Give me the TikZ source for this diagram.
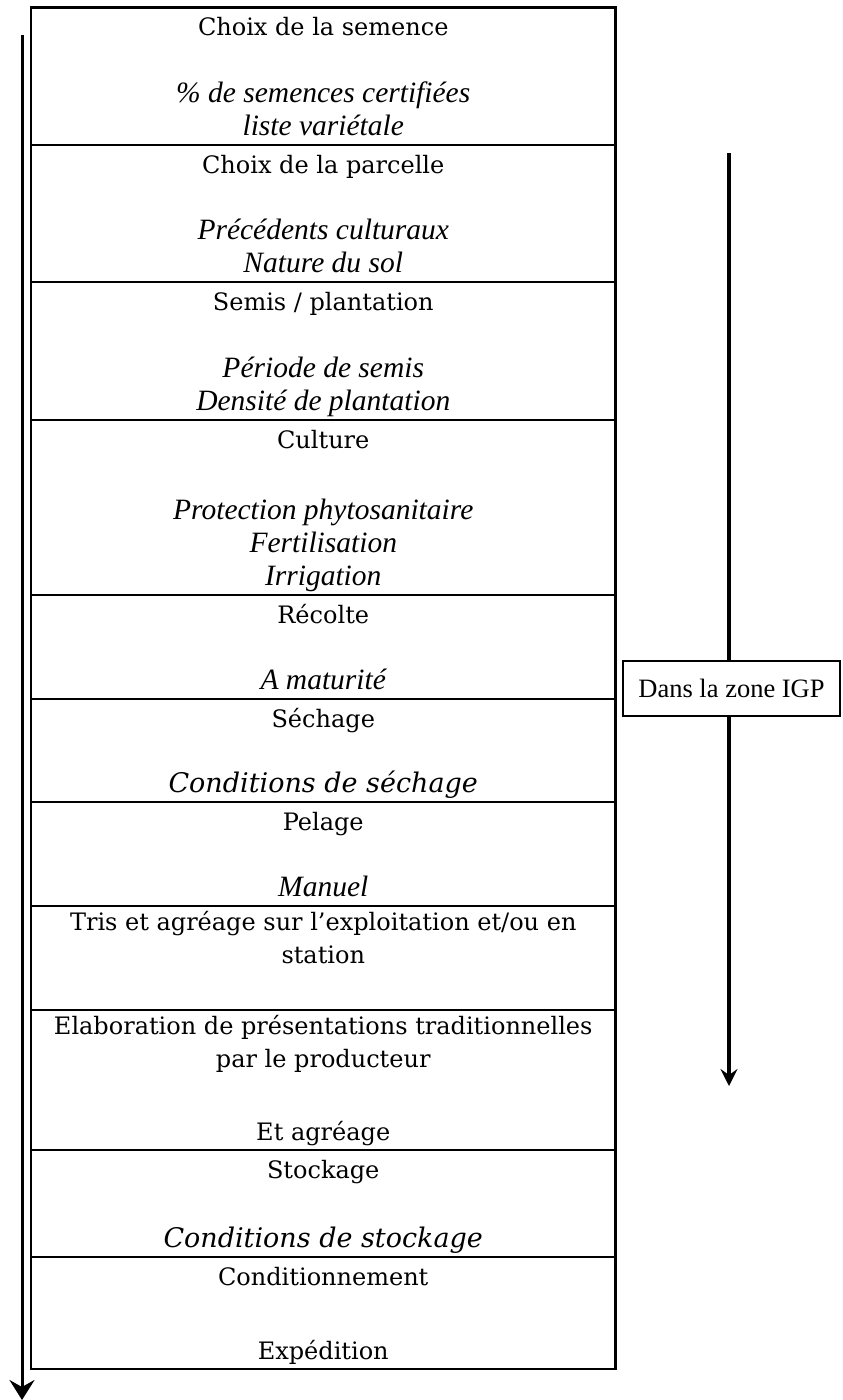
\documentclass[tikz,border=0pt]{standalone}
\usepackage{fontspec}
\setmainfont{Liberation Serif}
\newfontfamily\cambria{DejaVu Serif}
\usetikzlibrary{arrows.meta,positioning}

\begin{document}
\begin{tikzpicture}[x=1pt, y=-1pt, inner sep=0pt, outer sep=0pt,
    etape/.style={draw, line width=2.4pt, minimum width=584.5pt},
    titre/.style={anchor=north, yshift=-5pt, align=center, font=\cambria\fontsize{24}{33.5}\selectfont, execute at begin node=\strut},
    detail/.style={anchor=south, align=center, font=\itshape\fontsize{29.5}{33}\selectfont, execute at end node=\strut},
    detailc/.style={detail, font=\cambria\itshape\fontsize{27}{33}\selectfont},
    basc/.style={detail, font=\cambria\fontsize{24}{33}\selectfont}]
    \useasboundingbox (0,0) rectangle (843,1400);
    % the chain of steps
    \node[etape, minimum height=137.5pt] (semence) at (323.25,76.25) {};
    \node[etape, minimum height=137pt, below=0pt of semence] (parcelle) {};
    \node[etape, minimum height=138pt, below=0pt of parcelle] (semis) {};
    \node[etape, minimum height=175pt, below=0pt of semis] (culture) {};
    \node[etape, minimum height=104pt, below=0pt of culture] (recolte) {};
    \node[etape, minimum height=103pt, below=0pt of recolte] (sechage) {};
    \node[etape, minimum height=104pt, below=0pt of sechage] (pelage) {};
    \node[etape, minimum height=104pt, below=0pt of pelage] (tris) {};
    \node[etape, minimum height=140pt, below=0pt of tris] (elaboration) {};
    \node[etape, minimum height=107pt, below=0pt of elaboration] (stockage) {};
    \node[etape, minimum height=112pt, below=0pt of stockage] (conditionnement) {};
    % titles and details
    \node[titre] at (semence.north) {Choix de la semence};
    \node[detail] at (semence.south) {\% de semences certifiées\\liste variétale};
    \node[titre] at (parcelle.north) {Choix de la parcelle};
    \node[detail] at (parcelle.south) {Précédents culturaux\\Nature du sol};
    \node[titre] at (semis.north) {Semis / plantation};
    \node[detail] at (semis.south) {Période de semis\\Densité de plantation};
    \node[titre] at (culture.north) {Culture};
    \node[detail] at (culture.south) {Protection phytosanitaire\\Fertilisation\\Irrigation};
    \node[titre] at (recolte.north) {Récolte};
    \node[detail] at (recolte.south) {A maturité};
    \node[titre] at (sechage.north) {Séchage};
    \node[detailc] at (sechage.south) {Conditions de séchage};
    \node[titre] at (pelage.north) {Pelage};
    \node[detail] at (pelage.south) {Manuel};
    \node[titre] at (tris.north) {Tris et agréage sur l’exploitation et/ou en\\station};
    \node[titre] at (elaboration.north) {Elaboration de présentations traditionnelles\\par le producteur};
    \node[basc] at (elaboration.south) {Et agréage};
    \node[titre] at (stockage.north) {Stockage};
    \node[detailc] at (stockage.south) {Conditions de stockage};
    \node[titre] at (conditionnement.north) {Conditionnement};
    \node[basc] at (conditionnement.south) {Expédition};
    % whole chain arrow
    \coordinate (debut) at (22,35);
    \coordinate (fin) at (22,1400);
    \draw[line width=3pt, -{Stealth[length=20pt, width=25pt, inset=7pt]}] (debut) -- (fin);
    % IGP zone
    \node[draw, line width=1.3pt, minimum width=217pt, minimum height=55pt, font=\fontsize{26.5}{30}\selectfont] (igp) at (731.5,688.5) {Dans la zone IGP};
    \coordinate (haut) at (729,153);
    \coordinate (bas) at (729,1086);
    \draw[line width=3.5pt] (haut) -- (haut |- igp.north);
    \draw[line width=3.5pt, -{Stealth[length=17pt, width=17pt, inset=6pt]}] (haut |- igp.south) -- (bas);
\end{tikzpicture}
\end{document}
